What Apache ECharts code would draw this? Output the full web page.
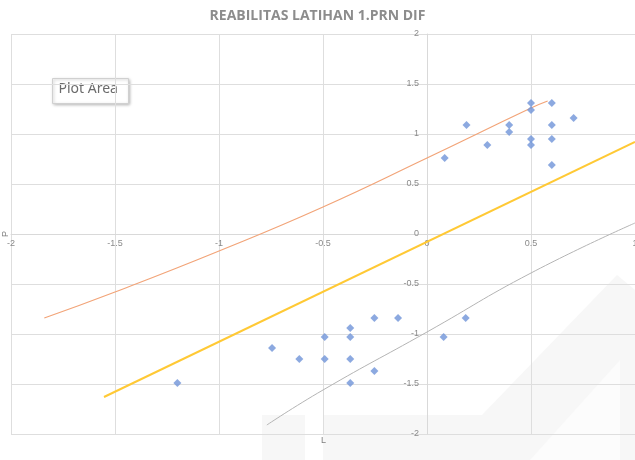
<!DOCTYPE html>
<html><head><meta charset="utf-8">
<script src="https://cdn.jsdelivr.net/npm/echarts@6/dist/echarts.min.js"></script>
<style>html,body{margin:0;padding:0;background:#fff;}#c{width:635px;height:460px;}</style>
</head><body><div id="c"></div>
<script>
const chartTitle = 'REABILITAS LATIHAN 1.PRN DIF';
const xTicks = [-2, -1.5, -1, -0.5, 0, 0.5, 1];
const yTicks = [-2, -1.5, -1, -0.5, 0, 0.5, 1, 1.5, 2];
// scatter points (L, P)
const pointL = [0.085, 0.19, 0.29, 0.395, 0.395, 0.5, 0.5, 0.5, 0.5, 0.6, 0.6, 0.6, 0.6, 0.705,
  -1.2, -0.745, -0.614, -0.492, -0.492, -0.369, -0.369, -0.369, -0.369, -0.253, -0.253, -0.139, 0.08, 0.186];
const pointP = [0.76, 1.09, 0.89, 1.09, 1.02, 1.31, 1.24, 0.95, 0.89, 1.31, 1.09, 0.95, 0.69, 1.16,
  -1.49, -1.14, -1.25, -1.03, -1.25, -0.94, -1.03, -1.25, -1.49, -0.84, -1.37, -0.84, -1.03, -0.84];
// upper line (orange)
const upperL = [-1.84, -1.5, -1.0, -0.5, 0.0, 0.5, 0.58];
const upperP = [-0.84, -0.58, -0.17, 0.27, 0.76, 1.26, 1.33];
// middle line (yellow)
const midL = [-1.553, 1.0];
const midP = [-1.63, 0.92];
// lower line (gray)
const lowerL = [-0.77, -0.5, 0.0, 0.5, 1.0];
const lowerP = [-1.91, -1.56, -0.98, -0.39, 0.11];

const pairs = (a, b) => a.map((v, i) => [v, b[i]]);
const chart = echarts.init(document.getElementById('c'), null, {renderer: 'canvas'});
const lab = {color: '#8a8a8a', fontSize: 9, fontFamily: 'Liberation Sans, Arial, sans-serif'};
chart.setOption({
  animation: false,
  backgroundColor: '#ffffff',
  title: {
    text: chartTitle, left: 'center', top: 4,
    textStyle: {color: '#8c8c8c', fontSize: 14, fontWeight: 'bold', fontFamily: 'Open Sans, sans-serif'}
  },
  grid: {left: 11, right: 0, top: 34, bottom: 26, containLabel: false, outerBoundsMode: 'none'},
  xAxis: {
    type: 'value', min: xTicks[0], max: xTicks[xTicks.length - 1], interval: 0.5,
    axisLine: {show: true, onZero: false, lineStyle: {color: '#d9d9d9'}},
    axisTick: {show: false},
    axisLabel: Object.assign({margin: 5, showMinLabel: true, showMaxLabel: true, hideOverlap: false}, lab),
    splitLine: {show: true, lineStyle: {color: '#dedede', width: 1}}
  },
  yAxis: {
    type: 'value', min: yTicks[0], max: yTicks[yTicks.length - 1], interval: 0.5,
    axisLine: {show: true, onZero: false, lineStyle: {color: '#d9d9d9'}},
    axisTick: {show: false},
    axisLabel: Object.assign({margin: 8, showMinLabel: true, showMaxLabel: true}, lab),
    splitLine: {show: true, lineStyle: {color: '#dedede', width: 1}}
  },
  graphic: [
    {type: 'polygon', z: -10, silent: true, shape: {points: [[262,415],[305,415],[305,460],[262,460]]}, style: {fill: '#f7f7f7'}},
    {type: 'polygon', z: -10, silent: true, shape: {points: [[323,415],[482,415],[617,275],[635,290],[635,460],[323,460]]}, style: {fill: '#f7f7f7'}},
    {type: 'polygon', z: -9, silent: true, shape: {points: [[530,460],[620,360],[620,460]]}, style: {fill: '#fcfcfc'}},
    {type: 'text', left: 321, top: 436, style: {text: 'L', fill: '#7f7f7f', fontSize: 9, fontFamily: 'Liberation Sans, sans-serif'}},
    {type: 'text', x: 1, y: 237, rotation: Math.PI / 2, style: {text: 'P', fill: '#7f7f7f', fontSize: 9, fontFamily: 'Liberation Sans, sans-serif'}},
    {type: 'group', left: 52, top: 78, z: 100, children: [
      {type: 'rect', shape: {x: 0, y: 0, width: 76, height: 25}, style: {fill: '#ffffff', stroke: '#d0d0d0', lineWidth: 1, shadowBlur: 3, shadowColor: 'rgba(0,0,0,0.25)', shadowOffsetX: 1, shadowOffsetY: 1}},
      {type: 'text', x: 6, y: 4, style: {text: 'Plot Area', fill: '#6b6b6b', fontSize: 14, fontFamily: 'Noto Sans, sans-serif'}}
    ]}
  ],
  series: [
    {type: 'line', data: pairs(upperL, upperP), smooth: true, showSymbol: false, lineStyle: {color: '#f2a478', width: 1.2}, z: 3},
    {type: 'line', data: pairs(midL, midP), showSymbol: false, lineStyle: {color: '#ffc935', width: 2}, z: 3},
    {type: 'line', data: pairs(lowerL, lowerP), smooth: true, showSymbol: false, lineStyle: {color: '#b4b4b4', width: 1}, z: 3},
    {type: 'scatter', data: pairs(pointL, pointP), symbol: 'diamond', symbolSize: 8, itemStyle: {color: '#6f93d8'}, z: 5}
  ]
});
// move both axes so that they cross at the origin (0,0), using the library's own scales
const origin = chart.convertToPixel({gridIndex: 0}, [0, 0]);
const corner = chart.convertToPixel({gridIndex: 0}, [xTicks[0], yTicks[0]]);
chart.setOption({
  xAxis: {offset: origin[1] - corner[1]},
  yAxis: {offset: corner[0] - origin[0]}
});
</script></body></html>
